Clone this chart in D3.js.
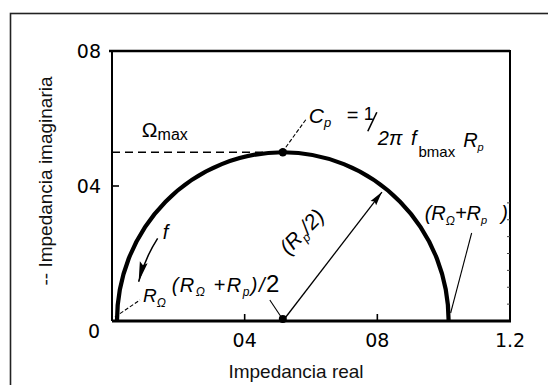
<!DOCTYPE html>
<html>
<head>
<meta charset="utf-8">
<script src="https://cdn.jsdelivr.net/npm/d3@7/dist/d3.min.js"></script>
<style>
  html, body { margin: 0; padding: 0; background: #fff; }
  svg { display: block; }
  .tick-label { font-family: "DejaVu Sans", sans-serif; font-size: 19px; fill: #000; }
  .axis-title { font-family: "Liberation Sans", Arial, sans-serif; font-size: 19px; fill: #111; }
  .ann { font-family: "Liberation Sans", Arial, sans-serif; font-style: italic; fill: #000; }
  .up { font-style: normal; }
</style>
</head>
<body>
<svg id="chart" width="548" height="385"></svg>
<script>
// Equivalent-circuit parameters of the Nyquist semicircle
const R_ohm = 0.015;          // solution resistance R_Ω
const R_p = 1.0;              // polarisation resistance R_p
const Z_max = R_p / 2;        // height of the semicircle top

// Axis ticks and their printed labels
const xTicks = [0.4, 0.8, 1.2];
const xTickLabels = ["04", "08", "1.2"];
const yTicks = [0.4, 0.8];
const yTickLabels = ["04", "08"];
const originLabel = "0";

// Angles (degrees) used for the annotation arrows
const radiusAngle = 52;                 // (R_p/2) radius arrow
const freqArc = { r: 0.45, from: 147, to: 165 };  // frequency arrow "f"

const svg = d3.select("#chart");

const x = d3.scaleLinear().domain([0, 1.2]).range([112, 510]);
const y = d3.scaleLinear().domain([0, 0.8]).range([321, 51]);

// outer frame
svg.append("rect")
  .attr("x", 10.5).attr("y", 13.5)
  .attr("width", 560).attr("height", 400)
  .attr("fill", "none").attr("stroke", "#222").attr("stroke-width", 1.6);

const defs = svg.append("defs");
defs.append("marker")
  .attr("id", "headLong")
  .attr("viewBox", "0 0 20 9").attr("refX", 20).attr("refY", 4.5)
  .attr("markerUnits", "userSpaceOnUse")
  .attr("markerWidth", 20).attr("markerHeight", 9)
  .attr("orient", "auto")
  .append("path").attr("d", "M0,0.5 L20,4.5 L0,8.5 L3,4.5 Z").attr("fill", "#000");
defs.append("marker")
  .attr("id", "headShort")
  .attr("viewBox", "0 0 14 8").attr("refX", 14).attr("refY", 4)
  .attr("markerUnits", "userSpaceOnUse")
  .attr("markerWidth", 14).attr("markerHeight", 8)
  .attr("orient", "auto")
  .append("path").attr("d", "M0,0.5 L14,4 L0,7.5 L2,4 Z").attr("fill", "#000");

// plot frame
const [x0, x1] = x.range();
const [y0, y1] = y.range();
svg.append("line").attr("x1", x0).attr("x2", x0).attr("y1", y1 - 1).attr("y2", y0)
  .attr("stroke", "#000").attr("stroke-width", 2);
svg.append("line").attr("x1", x0 - 3).attr("x2", x1).attr("y1", y1).attr("y2", y1)
  .attr("stroke", "#000").attr("stroke-width", 2.6);
svg.append("line").attr("x1", x1).attr("x2", x1).attr("y1", y1 - 1).attr("y2", y0)
  .attr("stroke", "#000").attr("stroke-width", 2);
svg.append("line").attr("x1", x0).attr("x2", x1 + 1).attr("y1", y0).attr("y2", y0)
  .attr("stroke", "#000").attr("stroke-width", 3);

// inward ticks
svg.selectAll(".xt").data(xTicks.slice(0, 2)).join("line")
  .attr("x1", d => x(d)).attr("x2", d => x(d))
  .attr("y1", y0).attr("y2", y0 - 7)
  .attr("stroke", "#000").attr("stroke-width", 1.6);
svg.selectAll(".yt").data(yTicks.slice(0, 1)).join("line")
  .attr("x1", x0).attr("x2", x0 + 7)
  .attr("y1", d => y(d)).attr("y2", d => y(d))
  .attr("stroke", "#000").attr("stroke-width", 1.6);
// faint minor ticks on the right edge
svg.selectAll(".rt").data(d3.range(1, 8).map(i => i * 0.05)).join("line")
  .attr("x1", x1).attr("x2", x1 - 3)
  .attr("y1", d => y(d)).attr("y2", d => y(d))
  .attr("stroke", "#444").attr("stroke-width", 1);

// tick labels
svg.selectAll(".xl").data(xTicks).join("text")
  .attr("class", "tick-label")
  .attr("x", d => x(d)).attr("y", y0 + 26)
  .attr("text-anchor", "middle")
  .text((d, i) => xTickLabels[i]);
svg.selectAll(".yl").data(yTicks).join("text")
  .attr("class", "tick-label")
  .attr("x", x0 - 11).attr("y", d => y(d) + 7)
  .attr("text-anchor", "end")
  .text((d, i) => yTickLabels[i]);
svg.append("text").attr("class", "tick-label")
  .attr("x", x0 - 18).attr("y", y0 + 17)
  .attr("text-anchor", "middle").text(originLabel);

// axis titles
svg.append("text").attr("class", "axis-title")
  .attr("x", (x0 + x1) / 2 - 15).attr("y", y0 + 57)
  .attr("text-anchor", "middle").text("Impedancia real");
svg.append("text").attr("class", "axis-title")
  .attr("transform", `translate(52,${(y0 + y1) / 2 - 5}) rotate(-90)`)
  .attr("text-anchor", "middle").text("-- Impedancia imaginaria");

// dashed line at the semicircle maximum
svg.append("line")
  .attr("x1", x(0)).attr("x2", x(R_ohm + R_p / 2))
  .attr("y1", y(Z_max)).attr("y2", y(Z_max))
  .attr("stroke", "#000").attr("stroke-width", 1.5)
  .attr("stroke-dasharray", "8,5");

// the semicircle itself
const rx = x(R_p / 2) - x(0);
const ry = y(0) - y(R_p / 2);
svg.append("path")
  .attr("d", `M${x(R_ohm)},${y(0)} A${rx},${ry} 0 0 1 ${x(R_ohm + R_p)},${y(0)}`)
  .attr("fill", "none").attr("stroke", "#000").attr("stroke-width", 4.2);

const cx = R_ohm + R_p / 2;
const rad = Math.PI / 180;

// frequency arrow running along the arc
const fa0 = [cx + freqArc.r * Math.cos(freqArc.from * rad), freqArc.r * Math.sin(freqArc.from * rad)];
const fa1 = [cx + freqArc.r * Math.cos(freqArc.to * rad), freqArc.r * Math.sin(freqArc.to * rad)];
svg.append("path")
  .attr("d", `M${x(fa0[0])},${y(fa0[1])} A${x(freqArc.r) - x(0)},${y(0) - y(freqArc.r)} 0 0 0 ${x(fa1[0])},${y(fa1[1])}`)
  .attr("fill", "none").attr("stroke", "#000").attr("stroke-width", 1.5)
  .attr("marker-end", "url(#headLong)");
svg.append("text").attr("class", "ann")
  .attr("x", x(fa0[0]) + 5).attr("y", y(fa0[1]) + 1)
  .attr("font-size", 20).text("f");

// radius arrow (R_p/2)
const re = [cx + (R_p / 2) * Math.cos(radiusAngle * rad), (R_p / 2) * Math.sin(radiusAngle * rad)];
svg.append("line")
  .attr("x1", x(cx)).attr("y1", y(0))
  .attr("x2", x(re[0]) - 3).attr("y2", y(re[1]) + 4)
  .attr("stroke", "#000").attr("stroke-width", 1.3)
  .attr("marker-end", "url(#headShort)");

// points: centre and maximum
svg.append("circle").attr("cx", x(cx)).attr("cy", y(Z_max)).attr("r", 4.2).attr("fill", "#000");
svg.append("circle").attr("cx", x(cx)).attr("cy", y(0) - 2).attr("r", 4).attr("fill", "#000");

// leader lines
function leader(a, b, dash) {
  svg.append("line")
    .attr("x1", a[0]).attr("y1", a[1]).attr("x2", b[0]).attr("y2", b[1])
    .attr("stroke", "#000").attr("stroke-width", 1.1)
    .attr("stroke-dasharray", dash || null);
}
leader([x(cx) + 3, y(Z_max) - 5], [x(cx) + 24, y(Z_max) - 34], "4,2");
leader([x(R_ohm) - 2, y(0) - 4], [x(R_ohm) + 23, y(0) - 21], "4,2");
leader([x(cx) - 13, y(0) - 21], [x(cx) - 1, y(0) - 3]);
leader([x(R_ohm + R_p) + 2, y(0) - 8], [x(R_ohm + R_p) + 23, y(0) - 88]);

// "Ω max" label on the dashed line
const zl = svg.append("text").attr("class", "ann up")
  .attr("x", x(0.09)).attr("y", y(Z_max) - 15).attr("font-size", 21);
zl.append("tspan").text("Ω");
zl.append("tspan").attr("font-size", 16).attr("dy", 3).text("max");

// C_p = 1 / (2π f R_p)
const cp = svg.append("g").attr("transform", `translate(${x(cx) + 26},${y(Z_max) - 29})`);
const c1 = cp.append("text").attr("class", "ann").attr("font-size", 21);
c1.append("tspan").text("C");
c1.append("tspan").attr("font-size", 13).attr("dy", 4).text("p");
cp.append("text").attr("class", "ann up")
  .attr("x", 38).attr("y", -1).attr("font-size", 20).text("=");
cp.append("text").attr("class", "ann up")
  .attr("x", 55).attr("y", -3).attr("font-size", 18).text("1");
cp.append("line")
  .attr("x1", 59).attr("y1", 8).attr("x2", 68).attr("y2", -11)
  .attr("stroke", "#000").attr("stroke-width", 1.6);
const den = cp.append("text").attr("class", "ann").attr("x", 69).attr("y", 22).attr("font-size", 20);
den.append("tspan").text("2π ");
den.append("tspan").attr("dx", 3).text("f");
den.append("tspan").attr("class", "up").attr("font-size", 15).attr("dy", 12).attr("dx", 2).text("bmax");
den.append("tspan").attr("dy", -10).attr("dx", 8).text("R");
den.append("tspan").attr("font-size", 11).attr("dy", 4).text("p");

// R_Ω label
const ro = svg.append("text").attr("class", "ann")
  .attr("x", x(R_ohm) + 26).attr("y", y(0) - 19).attr("font-size", 19);
ro.append("tspan").text("R");
ro.append("tspan").attr("font-size", 12).attr("dy", 5).text("Ω");

// (R_Ω+R_p)/2 label
const rh = svg.append("text").attr("class", "ann")
  .attr("x", x(0.18)).attr("y", y(0) - 29).attr("font-size", 20)
  .attr("letter-spacing", 1.5);
rh.append("tspan").text("(R");
rh.append("tspan").attr("font-size", 12).attr("dy", 4).text("Ω");
rh.append("tspan").attr("dy", -4).text(" +R");
rh.append("tspan").attr("font-size", 12).attr("dy", 4).text("p");
rh.append("tspan").attr("dy", -4).text(")/");
rh.append("tspan").attr("font-size", 24).attr("class", "up").text("2");

// (R_p/2) label along the radius
const rr = svg.append("text").attr("class", "ann")
  .attr("transform", `translate(${x(0.588)},${y(0.25)}) rotate(-46)`)
  .attr("text-anchor", "middle").attr("font-size", 21);
rr.append("tspan").text("(R");
rr.append("tspan").attr("font-size", 12).attr("dy", 4).text("p");
rr.append("tspan").attr("dy", -4).text("/2)");

// (R_Ω+R_p) label, closing bracket resting on the right edge
const rt = svg.append("text").attr("class", "ann")
  .attr("x", x(R_ohm + R_p) - 24).attr("y", y(0) - 101).attr("font-size", 20);
rt.append("tspan").text("(R");
rt.append("tspan").attr("font-size", 12).attr("dy", 5).text("Ω");
rt.append("tspan").attr("dy", -5).text("+R");
rt.append("tspan").attr("font-size", 11).attr("dy", 4).text("p");
rt.append("tspan").attr("dy", -4).attr("dx", 14).text(")");
</script>
</body>
</html>
